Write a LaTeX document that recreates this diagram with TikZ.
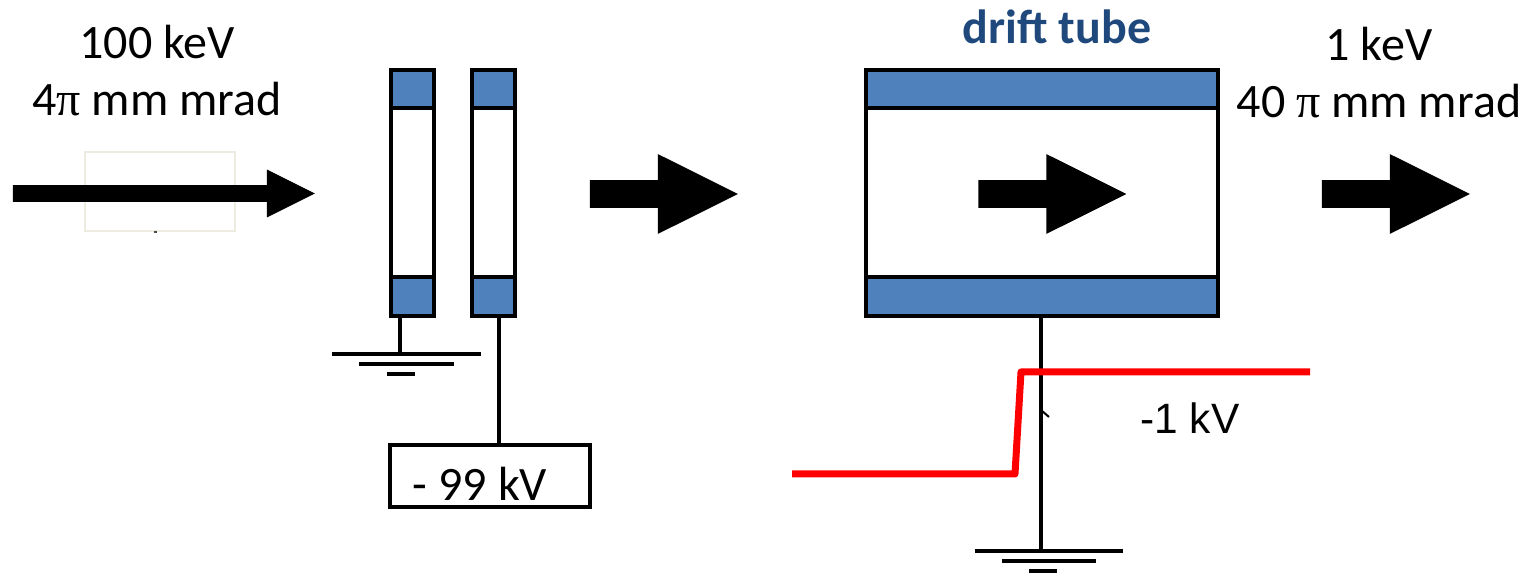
\documentclass[tikz,border=0pt]{standalone}
\usepackage{fontspec}
\setmainfont{Carlito}
\newfontfamily\arialfont{Liberation Sans}
\newfontfamily\pifont{Liberation Serif}
\usepackage{xcolor}
\usetikzlibrary{shapes,arrows.meta,positioning}
\definecolor{bandblue}{RGB}{79,129,189}
\definecolor{titleblue}{RGB}{31,73,125}
\definecolor{slidebeige}{RGB}{238,236,225}

\begin{document}
\begin{tikzpicture}[
    x=0.5pt, y=-0.5pt,
    caption/.style={inner sep=0pt, align=center, font=\fontsize{24}{28.5}\selectfont},
    beam/.style={single arrow, fill=black, inner xsep=0pt, inner ysep=6.75pt, single arrow tip angle=53, single arrow head indent=0pt, minimum width=39.5pt, minimum height=74pt, single arrow head extend=13pt},
    tube/.style={rectangle, draw, line width=2pt, inner sep=0pt, minimum height=123pt},
    band/.style={rectangle, draw, line width=2pt, fill=bandblue, inner sep=0pt},
    gnd/.style={rectangle, fill=black, inner sep=0pt, minimum height=2pt},
    wire/.style={line width=2pt}
]
\useasboundingbox (0,0) rectangle (1528,576);

% Incoming beam
\node[rectangle, draw=slidebeige, line width=0.8pt, inner sep=0pt, minimum width=75pt, minimum height=39.5pt] (window) at (160,191.5) {};
\node[caption] (beamin) at (157,71) {100 keV\\4{\pifont π} mm mrad};
\node[beam, inner ysep=4pt, minimum width=23.5pt, minimum height=151pt, single arrow head extend=7.75pt] (arrowin) at (155.5,193.5) {};
\fill[black!70] (154,231.5) rectangle (157,233);

% Buncher electrodes
\node[tube, minimum width=21.5pt] (tubeA) at (412.5,193.5) {};
\node[tube, minimum width=21.5pt, right=17pt of tubeA] (tubeB) {};
\foreach \t in {tubeA,tubeB} {
  \node[band, anchor=north, minimum width=21.5pt, minimum height=19pt] (\t top) at (\t.north) {};
  \node[band, anchor=south, minimum width=21.5pt, minimum height=19.5pt] (\t bot) at (\t.south) {};
}

% Ground of first electrode
\node[gnd, minimum width=74.5pt] (gndA) at (406.5,354) {};
\node[gnd, minimum width=47.5pt, below=2.5pt of gndA] (gndAb) {};
\node[gnd, minimum width=14pt, below=2.5pt of gndAb, xshift=-3pt] (gndAc) {};
\coordinate (stemA) at (400,354);
\draw[wire] (stemA |- tubeAbot.south) -- (stemA);

% Voltage box
\node[rectangle, draw, line width=2pt, inner sep=0pt, minimum width=100pt, minimum height=31pt] (supply) at (490,476) {};
\node[caption, anchor=base] (supplytext) at (480,501) {- 99 kV};
\coordinate (stemB) at (499,447);
\draw[wire] (stemB |- tubeBbot.south) -- (stemB);

% Second arrow
\node[beam] (arrowmid) at (650,194) {};

% Drift tube
\node[tube, minimum width=176pt] (drift) at (1042,193.5) {};
\node[band, anchor=north, minimum width=176pt, minimum height=19pt] (drifttop) at (drift.north) {};
\node[band, anchor=south, minimum width=176pt, minimum height=19.5pt] (driftbot) at (drift.south) {};
\node[caption, font=\fontsize{24}{28.5}\selectfont\bfseries, text=titleblue] (drifttitle) at (1057,27) {drift tube};
\node[beam] (arrowdrift) at (1038.5,194) {};

% Ground of drift tube
\node[gnd, minimum width=74pt] (gndB) at (1049,551) {};
\node[gnd, minimum width=47pt, below=2.5pt of gndB] (gndBb) {};
\node[gnd, minimum width=14pt, below=2.5pt of gndBb, xshift=-3pt] (gndBc) {};
\coordinate (stemC) at (1041,551);
\draw[wire] (stemC |- driftbot.south) -- (stemC);
\draw[line width=1pt] (1041,410) -- (1049,417);

% Potential step
\coordinate (stepL) at (792,474);
\coordinate (stepR) at (1310,372);
\draw[red, line width=3.5pt, line join=round] (stepL) -- (1015,474) -- (1021,372) -- (stepR);
\node[inner sep=0pt, font=\fontsize{21.2}{25}\selectfont\arialfont] (stepvolt) at (1190,418) {-1 kV};

% Outgoing beam
\node[caption] (beamout) at (1379,73) {1 keV\\40 {\pifont π} mm mrad};
\node[beam] (arrowout) at (1382,194) {};

\end{tikzpicture}
\end{document}
